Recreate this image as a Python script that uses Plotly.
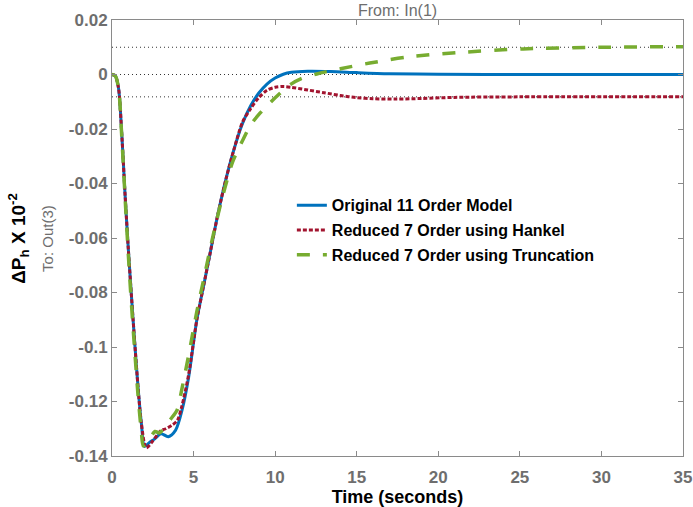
import plotly.graph_objects as go

# ---- data ----
t_orig = [0, 0.2, 0.4, 0.6, 0.8, 1.0, 1.2, 1.4, 1.6, 1.8, 2.0, 2.3, 2.6, 3.0, 3.45, 3.9, 4.3, 4.7,
          5.2, 5.6, 6.0, 6.5, 7.0, 7.5, 8.0, 8.5, 9.0, 9.5, 10.0, 10.5, 11.0, 12.0, 13.4, 15, 17, 20, 25, 35]
y_orig = [0, -0.0005, -0.005, -0.022, -0.044, -0.064, -0.082, -0.099, -0.115, -0.128, -0.1365, -0.135,
          -0.1338, -0.1318, -0.1329, -0.1305, -0.123, -0.111,
          -0.090, -0.078, -0.066, -0.051, -0.038, -0.027, -0.018, -0.0115, -0.0068, -0.0035, -0.0013,
          0.0001, 0.0008, 0.0012, 0.0011, 0.0007, 0.0003, 0.0001, 0.0, 0.0]

t_hankel = [0, 0.2, 0.4, 0.6, 0.8, 1.0, 1.2, 1.4, 1.6, 1.8, 2.1, 2.5, 3.0, 3.3, 3.65, 4.0, 4.27, 4.7,
            5.2, 5.6, 6.0, 6.5, 7.0, 7.5, 8.0, 8.5, 9.0, 9.5, 10.0, 10.5, 11.0, 12.0, 13.0, 14.0, 15.0,
            16.0, 17.4, 19.0, 21.0, 25.0, 35.0]
y_hankel = [0, -0.0005, -0.005, -0.022, -0.044, -0.064, -0.082, -0.099, -0.115, -0.128, -0.137, -0.1345,
            -0.1307, -0.1300, -0.1288, -0.127, -0.122, -0.110,
            -0.090, -0.078, -0.066, -0.051, -0.038, -0.027, -0.0175, -0.0125, -0.0085, -0.0058, -0.0047,
            -0.0044, -0.0047, -0.0057, -0.0067, -0.0077, -0.0085, -0.0089, -0.0090, -0.0088, -0.0084,
            -0.0082, -0.0082]

t_trunc = [0, 0.2, 0.4, 0.6, 0.8, 1.0, 1.2, 1.4, 1.6, 1.8, 1.92, 2.2, 2.63, 2.9, 3.55, 4.0, 4.27, 4.7,
           5.2, 5.7, 6.2, 6.83, 7.4, 8.05, 8.5, 9.07, 9.7, 10.3, 10.9, 11.6, 12.55, 14.0, 15.8, 18.1,
           21.1, 25.2, 30.0, 35.0]
y_trunc = [0, -0.0005, -0.005, -0.023, -0.045, -0.066, -0.085, -0.102, -0.118, -0.131, -0.1363, -0.135,
           -0.131, -0.1315, -0.1268, -0.123, -0.1158, -0.103,
           -0.087, -0.073, -0.059, -0.0436, -0.032, -0.0237, -0.0185, -0.0142, -0.0103, -0.0069,
           -0.0038, -0.0015, 0.0002, 0.0021, 0.0042, 0.0064, 0.0080, 0.0094, 0.0100, 0.0102]

steady_levels = [0.01, 0.0, -0.0082]
x_span = [0, 35]

series_names = ["Original 11 Order Model", "Reduced 7 Order using Hankel", "Reduced 7 Order using Truncation"]

y_tickvals = [0.02, 0, -0.02, -0.04, -0.06, -0.08, -0.1, -0.12, -0.14]
y_ticktext = ["0.02", "0", "-0.02", "-0.04", "-0.06", "-0.08", "-0.1", "-0.12", "-0.14"]
x_tickvals = [0, 5, 10, 15, 20, 25, 30, 35]

FONT = "Liberation Sans, Arial, Helvetica, sans-serif"
GRAY = "#6e6e6e"

fig = go.Figure()
for lv in steady_levels:
    fig.add_trace(go.Scatter(x=x_span, y=[lv, lv], mode="lines", showlegend=False, hoverinfo="skip",
                             line=dict(color="#333333", width=1, dash="1px,3px")))

fig.add_trace(go.Scatter(x=t_orig, y=y_orig, mode="lines", name=series_names[0], legendgroup="a",
                         line=dict(color="#0072BD", width=3, shape="spline", smoothing=0.8)))
fig.add_trace(go.Scatter(x=t_hankel, y=y_hankel, mode="lines", name=series_names[1], legendgroup="b",
                         line=dict(color="#A2142F", width=3, dash="4px,2px", shape="spline", smoothing=0.8)))
fig.add_trace(go.Scatter(x=t_trunc, y=y_trunc, mode="lines", name=series_names[2], legendgroup="c",
                         line=dict(color="#77AC30", width=3.5, dash="13px,13px", shape="spline", smoothing=0.8)))

axis_common = dict(showgrid=False, zeroline=False, showline=True, linecolor="#8a8a8a", linewidth=1,
                   mirror="ticks", ticks="inside", ticklen=5, tickcolor="#8a8a8a", automargin=False,
                   tickfont=dict(family=FONT, size=17, color=GRAY, weight="bold"))

fig.update_layout(
    width=693, height=507,
    margin=dict(l=112, r=10, t=20, b=51),
    paper_bgcolor="white", plot_bgcolor="white",
    xaxis=dict(range=[0, 35], tickvals=x_tickvals, ticklabelstandoff=6, **axis_common,
               title=dict(text="Time (seconds)", font=dict(family=FONT, size=18, color="black", weight="bold"),
                          standoff=4)),
    yaxis=dict(range=[-0.14, 0.02], tickvals=y_tickvals, ticktext=y_ticktext, **axis_common),
    legend=dict(x=0.315, y=0.614, xanchor="left", yanchor="top", bgcolor="rgba(0,0,0,0)",
                font=dict(family=FONT, size=16, color="black", weight="bold"), tracegroupgap=1),
    annotations=[
        dict(text="From: In(1)", xref="paper", yref="paper", x=0.5, y=1, yanchor="bottom", yshift=-1,
             showarrow=False, font=dict(family=FONT, size=16, color=GRAY)),
        dict(text="ΔP<sub>h</sub> X 10<sup>-2</sup>", xref="paper", yref="paper", x=-0.165, y=0.5,
             xanchor="center", yanchor="middle", textangle=-90, showarrow=False,
             font=dict(family=FONT, size=19, color="black", weight="bold")),
        dict(text="To: Out(3)", xref="paper", yref="paper", x=-0.114, y=0.5,
             xanchor="center", yanchor="middle", textangle=-90, showarrow=False,
             font=dict(family=FONT, size=15, color=GRAY)),
    ],
)

fig.write_html("out.html")
